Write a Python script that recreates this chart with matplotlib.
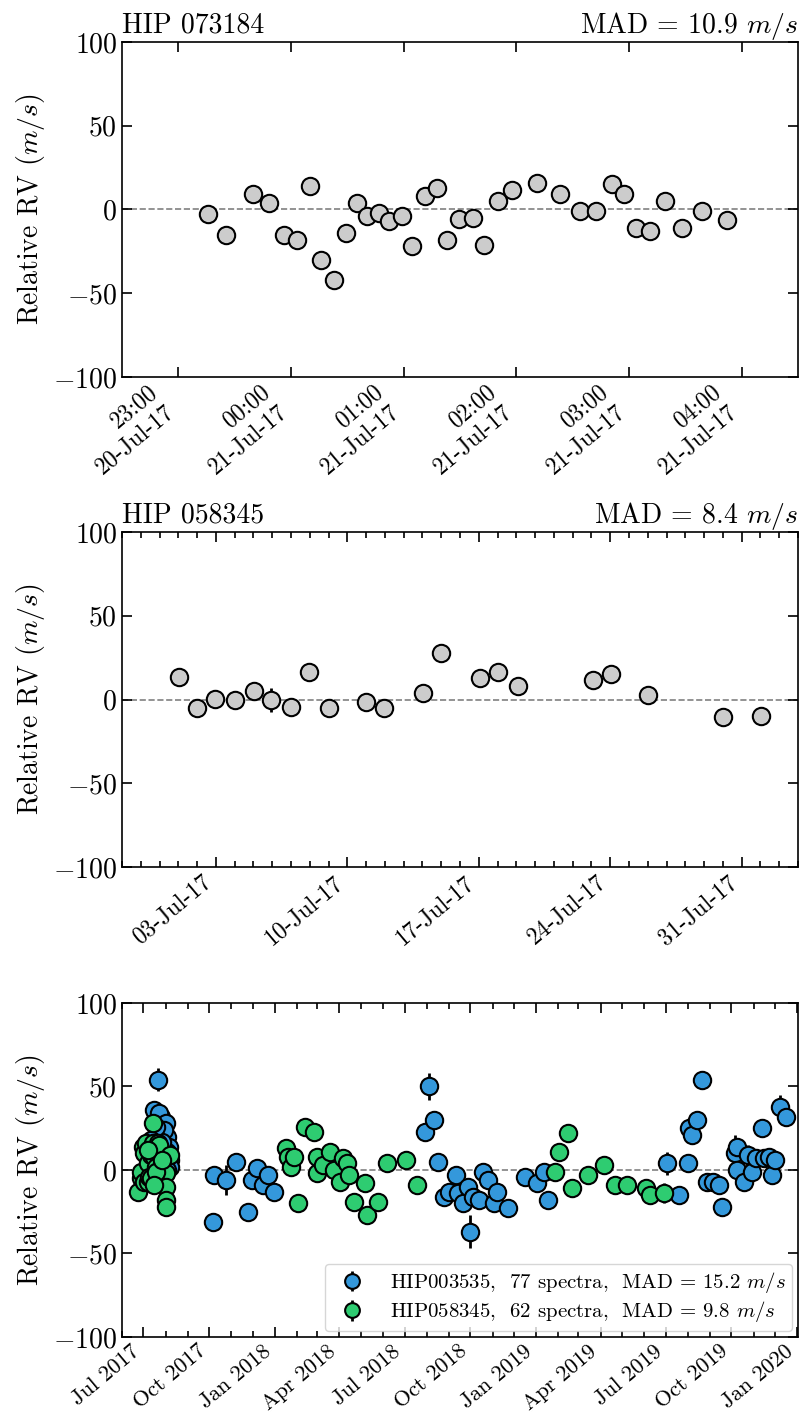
import matplotlib
matplotlib.use('Agg')
import matplotlib.pyplot as plt
import matplotlib.dates as mdates
import numpy as np
import pandas as pd

plt.rcParams['font.family'] = 'serif'
plt.rcParams['font.serif'] = ['cmr10']
plt.rcParams['mathtext.fontset'] = 'cm'
plt.rcParams['axes.formatter.use_mathtext'] = True

# ---- panel 1: HIP 073184, one night (minutes after 2017-07-20 23:00)
p1_min = [16, 25.6, 40, 48.5, 56.5, 63, 70, 76, 83, 89.5, 95, 100.7, 107, 112.4,
          119, 124.7, 131.6, 137.5, 143.3, 149.7, 156.7, 163, 170, 177.5, 190.8,
          203, 213.7, 222.2, 230.7, 237.6, 244, 251, 259, 268, 279, 292]
p1_rv = [-3, -15, 9, 4, -15, -18.5, 14, -30, -42, -14, 4, -4, -2, -7, -4, -22,
         8, 12.5, -18, -6, -5, -21, 5, 11.5, 15.5, 9, -1, -1, 15, 9, -11, -13,
         5, -11, -1, -6.5]
p1_err = [3] * len(p1_rv)

# ---- panel 2: HIP 058345, July 2017 (days after 2017-06-28 00:00)
p2_day = [3.03, 3.98, 4.97, 6.01, 7.03, 7.95, 9.01, 9.98, 11.0, 13.0, 13.98,
          16.03, 17.0, 19.06, 20.05, 21.09, 25.06, 26.04, 28.02, 32.03, 34.03]
p2_rv = [13.7, -5.2, 0.4, 0, 4.8, -0.2, -4.4, 16.5, -4.8, -1.2, -4.8, 3.6, 28,
         13.1, 16.7, 8, 11.8, 15.2, 2.4, -10.5, -10]
p2_err = [3, 3, 3, 3, 3, 7, 3, 3, 3, 3, 3, 3, 3, 3, 3, 3, 3, 3, 3, 3, 3]

# ---- panel 3: both stars (days after 2017-07-01)
b_day = [21, 15.4, 25.2, 22.4, 32.2, 33.6, 29.4, 36.4, 37.8, 37.8, 33.6, 26.6,
         18.2, 11.2, 8.4, 4.2, 29.4, 22.4, 33.6, 12.6,
         96.6, 98, 114.8, 128.8, 145.6, 151.2, 158.2, 166.6, 173.6, 182,
         393.4, 399, 406, 411.6, 420, 427, 436.8, 439.6, 446.6, 453.6, 456.4,
         460.6, 469, 474.6, 481.6, 490, 494.2, 509.6, 533.4, 550.2, 560, 565.6,
         732.2, 749, 761.6, 763, 767.2, 774.2, 781.2, 788.2, 796.6, 805, 809.2,
         827.4, 830.2, 830.2, 840, 845.6, 851.2, 856.8, 865.2, 868, 875, 879.2,
         883.4, 890.4, 898.8]
b_rv = [54, 36, 32, 34, 28, 20, 24, 14, 6, 2, 11, 17, 26, 18, 6, 0, -3, -6, 0, -4,
        -31, -3, -6, 5, -25, -6, 1, -9, -3, -13,
        23, 50, 30, 5, -16, -13, -3, -14, -20, -10, -37, -16, -18, -1, -6, -20,
        -13, -23, -4, -8, -1, -18,
        4, -15, 4, 25, 21, 30, 54, -7, -7, -9, -22, 10, 14, 0, -7, 9, -1, 7, 25,
        7, 8, -3, 6, 38, 32]
b_err = [7] + [3] * 21 + [9] + [3] * 8 + [8] + [3] * 8 + [10] + [3] * 11 + \
        [7] + [3] * 10 + [11] + [3] * 3 + [6] + [3] * 7 + [7, 3]

g_day = [-7, -3.2, -3.2, -1, 1.4, 3.8, 1.4, 6, 6, 8.4, 10.8, 10.8, 13, 13, 15.4,
         17.8, 20, 22.4, 24.8, 31.8, 31.8, 31.8, 31.8, 37.4, 18.2, 26.6, 7, 15.4,
         198.8, 201.6, 205.8, 210, 215.6, 225.4, 238, 242.2, 242.2, 250.6, 260.4,
         266, 274.4, 278.6, 284.2, 287, 294, 309.4, 312.2, 327.6, 340.2, 366.8,
         382.2, 575.4, 581, 593.6, 599.2, 621.6, 644, 659.4, 676.2, 702.8, 708.4,
         728]
g_rv = [-13, -5, -1, 14, 10, 16, -7, 4, -7, -4, 9, -5, 28, 16, 8, 2, 16, 15, 2,
        -2, -10, -18, -22, 9, -1, 6, 12, -9,
        13, 8, 2, 8, -20, 26, 23, 8, -2, 3, 11, 0, -7, 7, 4, -3, -19, -8, -27,
        -19, 4, 6, -9, -1, 11, 22, -11, -3, 3, -9, -9, -11, -15, -14]
g_err = [3] * 56 + [5] + [3] * 4 + [6]

labels = [r'HIP003535,  77 spectra,  MAD = 15.2 $m/s$',
          r'HIP058345,  62 spectra,  MAD = 9.8 $m/s$']

BLUE = '#3498db'
GREEN = '#2ecc71'
GRAY = '#cccccc'


def style(ax, xsize=17):
    ax.set_ylim(-100, 100)
    ax.set_yticks([-100, -50, 0, 50, 100])
    ax.axhline(0, color='gray', linestyle='--', linewidth=1.2, zorder=0)
    ax.tick_params(which='both', direction='in', top=True, right=True,
                   labelsize=20)
    ax.tick_params(which='major', length=7.5, width=1.2)
    ax.tick_params(which='minor', length=4, width=1.2)
    ax.tick_params(axis='x', labelsize=xsize, pad=3)
    for s in ax.spines.values():
        s.set_linewidth(1.2)
    ax.set_ylabel(r'Relative RV ($m/s$)', fontsize=20)
    plt.setp(ax.get_xticklabels(), rotation=40, ha='right')


def rv_plot(ax, t, rv, err, color, label=None):
    ax.errorbar(t, rv, yerr=err, fmt='o', ms=12.5, mfc=color, mec='black',
                mew=1.5, ecolor='black', elinewidth=2, capsize=0, label=label)


fig = plt.figure(figsize=(8.02, 14.16), dpi=100)
ax1 = fig.add_axes([0.1521, 0.7338, 0.8429, 0.2366])
ax2 = fig.add_axes([0.1521, 0.3877, 0.8429, 0.2366])
ax3 = fig.add_axes([0.1521, 0.0558, 0.8429, 0.2359])

# panel 1
t1 = pd.Timestamp('2017-07-20 23:00') + pd.to_timedelta(p1_min, unit='m')
rv_plot(ax1, t1, p1_rv, p1_err, GRAY)
ax1.set_xlim(pd.Timestamp('2017-07-20 22:30'), pd.Timestamp('2017-07-21 04:30'))
ax1.xaxis.set_major_locator(mdates.HourLocator())
ax1.xaxis.set_major_formatter(mdates.DateFormatter('%H:%M\n%d-%b-%y'))
ax1.set_title('HIP 073184', loc='left', fontsize=20, pad=3)
ax1.set_title(r'MAD = 10.9 $m/s$', loc='right', fontsize=20, pad=3)
style(ax1)

# panel 2
t2 = pd.Timestamp('2017-06-28') + pd.to_timedelta(p2_day, unit='D')
rv_plot(ax2, t2, p2_rv, p2_err, GRAY)
ax2.set_xlim(pd.Timestamp('2017-06-28'), pd.Timestamp('2017-08-03'))
ax2.xaxis.set_major_locator(mdates.WeekdayLocator(byweekday=mdates.MO))
ax2.xaxis.set_minor_locator(mdates.DayLocator())
ax2.xaxis.set_major_formatter(mdates.DateFormatter('%d-%b-%y'))
ax2.set_title('HIP 058345', loc='left', fontsize=20, pad=3)
ax2.set_title(r'MAD = 8.4 $m/s$', loc='right', fontsize=20, pad=3)
style(ax2)

# panel 3
tb = pd.Timestamp('2017-07-01') + pd.to_timedelta(b_day, unit='D')
tg = pd.Timestamp('2017-07-01') + pd.to_timedelta(g_day, unit='D')
rv_plot(ax3, tb, b_rv, b_err, BLUE, labels[0])
rv_plot(ax3, tg, g_rv, g_err, GREEN, labels[1])
ax3.set_xlim(pd.Timestamp('2017-06-01'), pd.Timestamp('2020-01-02'))
ax3.xaxis.set_major_locator(mdates.MonthLocator(bymonth=[1, 4, 7, 10]))
ax3.xaxis.set_minor_locator(mdates.MonthLocator())
ax3.xaxis.set_major_formatter(mdates.DateFormatter('%b %Y'))
ax3.legend(loc='lower right', fontsize=15, markerscale=0.85,
           handletextpad=0.8, borderpad=0.3, labelspacing=0.2,
           borderaxespad=0.3)
style(ax3, xsize=16)

fig.savefig('out.png', dpi=100)
